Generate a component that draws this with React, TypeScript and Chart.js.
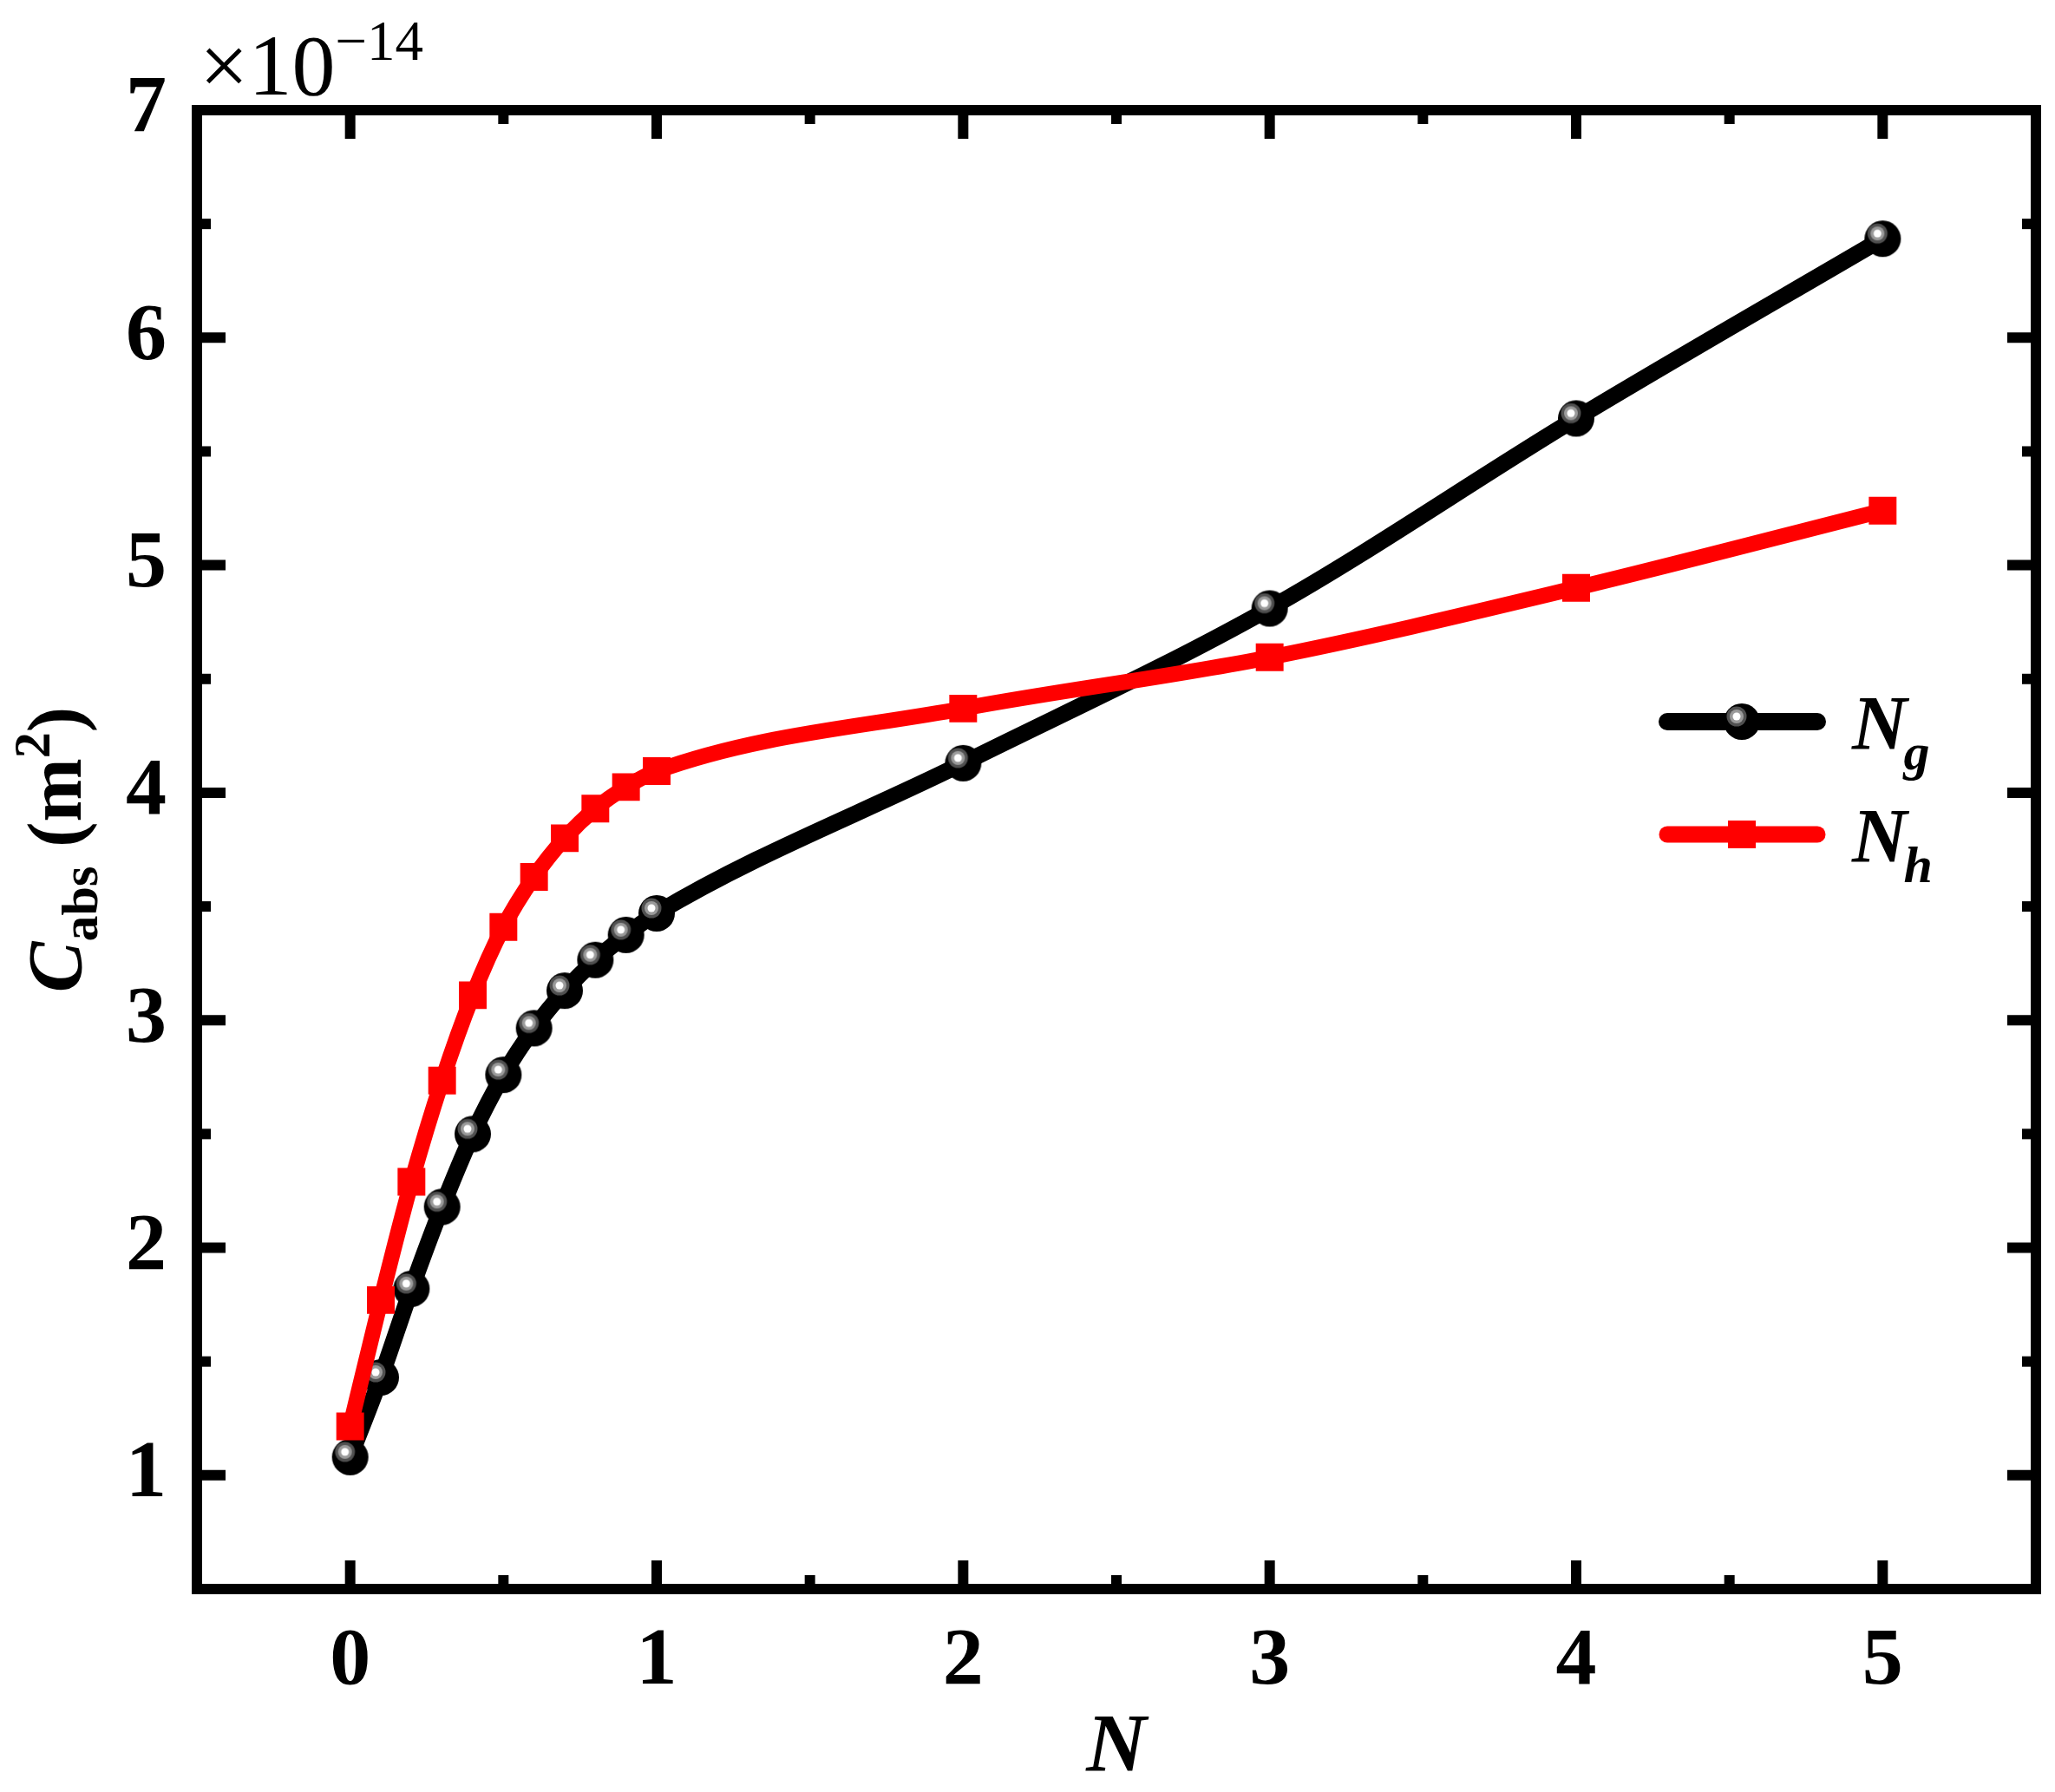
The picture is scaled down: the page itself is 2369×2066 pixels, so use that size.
import { useEffect, useRef } from 'react';
import { Chart, registerables } from 'chart.js';

Chart.register(...registerables);

// N values (x axis) shared by both series
const nValues = [0, 0.1, 0.2, 0.3, 0.4, 0.5, 0.6, 0.7, 0.8, 0.9, 1, 2, 3, 4, 5];
// C_abs in units of 1e-14 m^2
const ngValues = [1.08, 1.43, 1.82, 2.18, 2.50, 2.76, 2.965, 3.13, 3.265, 3.375, 3.47, 4.13, 4.81, 5.645, 6.435];
const nhValues = [1.215, 1.77, 2.29, 2.735, 3.11, 3.41, 3.63, 3.80, 3.93, 4.025, 4.095, 4.37, 4.595, 4.9, 5.24];

const xTickValues = [0, 1, 2, 3, 4, 5];
const xMinorValues = [0.5, 1.5, 2.5, 3.5, 4.5];
const yTickValues = [1, 2, 3, 4, 5, 6, 7];
const yMinorValues = [1.5, 2.5, 3.5, 4.5, 5.5, 6.5];

const SERIF = '"Liberation Serif", "Times New Roman", serif';
const W = 2369;
const H = 2066;

// black ball marker with a grey/white highlight
function makeBall(): HTMLCanvasElement {
  const c = document.createElement('canvas');
  c.width = 46;
  c.height = 46;
  const g = c.getContext('2d')!;
  g.fillStyle = '#000';
  g.beginPath();
  g.arc(23, 23, 21, 0, Math.PI * 2);
  g.fill();
  const rings: [number, string][] = [[11.5, '#505050'], [8, '#9a9a9a'], [4.5, '#ffffff']];
  for (const [r, col] of rings) {
    g.fillStyle = col;
    g.beginPath();
    g.arc(17, 17, r, 0, Math.PI * 2);
    g.fill();
  }
  return c;
}

export default function App() {
  const canvasRef = useRef<HTMLCanvasElement>(null);

  useEffect(() => {
    if (!canvasRef.current) return;
    // no page margin or scrollbars, so the canvas gets the full window
    document.body.style.margin = '0';
    document.documentElement.style.overflow = 'hidden';
    document.body.style.overflow = 'hidden';
    const ball = makeBall();

    const decor = {
      id: 'decor',
      afterDraw(chart: any) {
        const { ctx, chartArea: a, scales } = chart;
        const x = scales.x;
        const y = scales.y;
        ctx.save();
        ctx.strokeStyle = '#000';
        ctx.fillStyle = '#000';
        ctx.lineWidth = 12;
        ctx.lineCap = 'butt';
        const seg = (x1: number, y1: number, x2: number, y2: number) => {
          ctx.beginPath();
          ctx.moveTo(x1, y1);
          ctx.lineTo(x2, y2);
          ctx.stroke();
        };
        // inward ticks on all four sides
        for (const v of xTickValues) {
          const px = x.getPixelForValue(v);
          seg(px, a.bottom, px, a.bottom - 33);
          seg(px, a.top, px, a.top + 33);
        }
        for (const v of xMinorValues) {
          const px = x.getPixelForValue(v);
          seg(px, a.bottom, px, a.bottom - 16);
          seg(px, a.top, px, a.top + 16);
        }
        for (const v of yTickValues) {
          const py = y.getPixelForValue(v);
          seg(a.left, py, a.left + 33, py);
          seg(a.right, py, a.right - 33, py);
        }
        for (const v of yMinorValues) {
          const py = y.getPixelForValue(v);
          seg(a.left, py, a.left + 16, py);
          seg(a.right, py, a.right - 16, py);
        }
        ctx.strokeRect(a.left, a.top, a.right - a.left, a.bottom - a.top);

        // multiplier
        ctx.textAlign = 'left';
        ctx.textBaseline = 'alphabetic';
        ctx.font = `100px ${SERIF}`;
        ctx.fillText('\u00d710', 230, 109);
        const mw = ctx.measureText('\u00d710').width;
        ctx.font = `65px ${SERIF}`;
        ctx.fillText('\u221214', 230 + mw, 69);

        // x title
        ctx.font = `italic bold 96px ${SERIF}`;
        ctx.textAlign = 'center';
        ctx.fillText('N', (a.left + a.right) / 2, 2042);

        // y title, rotated
        const parts: [string, string, number][] = [
          ['C', `italic bold 88px ${SERIF}`, 0],
          ['abs', `bold 60px ${SERIF}`, 19],
          [' (m', `bold 88px ${SERIF}`, 0],
          ['2', `bold 60px ${SERIF}`, -36],
          [')', `bold 88px ${SERIF}`, 0],
        ];
        ctx.textAlign = 'left';
        let total = 0;
        const widths = parts.map(([t, f]) => {
          ctx.font = f;
          const w = ctx.measureText(t).width;
          total += w;
          return w;
        });
        ctx.save();
        ctx.translate(93, (a.top + a.bottom) / 2);
        ctx.rotate(-Math.PI / 2);
        let cx = -total / 2;
        parts.forEach(([t, f, dy], i) => {
          ctx.font = f;
          ctx.fillText(t, cx, dy);
          cx += widths[i];
        });
        ctx.restore();

        // legend
        const legend: [string, string, number, number][] = [
          ['g', '#000000', 832, 20],
          ['h', '#ff0000', 962, 19],
        ];
        for (const [sub, col, ly, lw] of legend) {
          ctx.strokeStyle = col;
          ctx.lineWidth = lw;
          ctx.lineCap = 'round';
          seg(1922, ly, 2095, ly);
          if (col === '#000000') {
            ctx.drawImage(ball, 2008 - 23, ly - 23);
          } else {
            ctx.fillStyle = col;
            ctx.fillRect(2008 - 16, ly - 16, 32, 32);
          }
          ctx.fillStyle = '#000';
          ctx.font = `italic bold 88px ${SERIF}`;
          ctx.fillText('N', 2135, ly + 31);
          const nw = ctx.measureText('N').width;
          ctx.font = `italic bold 60px ${SERIF}`;
          ctx.fillText(sub, 2135 + nw - 4, ly + 55);
        }
        ctx.restore();
      },
    };

    const tickFont = { family: SERIF, size: 94, weight: 'bold' as const };

    const chart = new Chart(canvasRef.current, {
      type: 'line',
      data: {
        datasets: [
          {
            label: 'Nh',
            data: nValues.map((n, i) => ({ x: n, y: nhValues[i] })),
            borderColor: '#ff0000',
            backgroundColor: '#ff0000',
            borderWidth: 18,
            borderJoinStyle: 'round',
            borderCapStyle: 'round',
            pointStyle: 'rect',
            pointRadius: 22.6,
            pointBorderWidth: 0,
            pointBackgroundColor: '#ff0000',
            cubicInterpolationMode: 'monotone',
            order: 1,
          },
          {
            label: 'Ng',
            data: nValues.map((n, i) => ({ x: n, y: ngValues[i] })),
            borderColor: '#000000',
            backgroundColor: '#000000',
            borderWidth: 19,
            borderJoinStyle: 'round',
            borderCapStyle: 'round',
            pointStyle: ball,
            pointRadius: 21,
            cubicInterpolationMode: 'monotone',
            order: 2,
          },
        ],
      },
      options: {
        animation: false,
        responsive: true,
        maintainAspectRatio: false,
        devicePixelRatio: 1,
        layout: { autoPadding: false, padding: { top: 127, right: 22, left: 0, bottom: 0 } },
        plugins: {
          legend: { display: false },
          tooltip: { enabled: false },
          title: { display: false },
        },
        scales: {
          x: {
            type: 'linear',
            min: -0.5,
            max: 5.5,
            afterBuildTicks: (s: any) => {
              s.ticks = xTickValues.map(v => ({ value: v }));
            },
            afterFit: (s: any) => {
              s.height = H - 1832;
            },
            grid: { display: false, drawTicks: false },
            border: { display: false },
            ticks: { color: '#000', font: tickFont, padding: 28, maxRotation: 0 },
          },
          y: {
            type: 'linear',
            min: 0.5,
            max: 7,
            afterBuildTicks: (s: any) => {
              s.ticks = yTickValues.map(v => ({ value: v }));
            },
            afterFit: (s: any) => {
              s.width = 227;
            },
            grid: { display: false, drawTicks: false },
            border: { display: false },
            ticks: { color: '#000', font: tickFont, padding: 35 },
          },
        },
      },
      plugins: [decor],
    });

    return () => chart.destroy();
  }, []);

  return (
    <div style={{ position: 'fixed', left: 0, top: 0, width: W, height: H, background: '#fff' }}>
      <canvas ref={canvasRef} />
    </div>
  );
}
